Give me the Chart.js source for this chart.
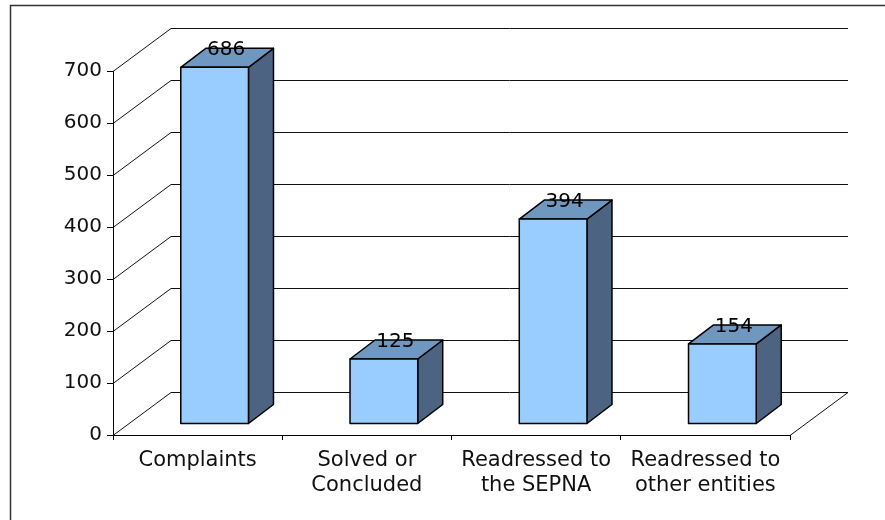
<!DOCTYPE html>
<html lang="en">
<head>
  <meta charset="UTF-8">
  <title>Complaints</title>
  <script src="https://cdn.jsdelivr.net/npm/chart.js"></script>
  <style>
    html, body { margin: 0; padding: 0; background: #fff; }
    #wrap { width: 885px; height: 520px; }
  </style>
</head>
<body>
  <div id="wrap"><canvas id="grafico" width="885" height="520"></canvas></div>

  <script>
    // data
    const categorias = [
      'Complaints',
      ['Solved or', 'Concluded'],
      ['Readressed to', 'the SEPNA'],
      ['Readressed to', 'other entities']
    ];
    const valores = [686, 125, 394, 154];
    const yTicks = [0, 100, 200, 300, 400, 500, 600, 700];

    // 3D look
    const WALL = { dx: 58, dy: -43 };   // depth of the back wall
    const PLANE = { dx: 17, dy: -11 };  // where the bar front sits
    const DEPTH = { dx: 25, dy: -19 };  // bar depth
    const FONT = 'DejaVu Sans';

    const frame3d = {
      id: 'frame3d',
      beforeDraw(chart) {
        const ctx = chart.ctx;
        ctx.save();
        ctx.strokeStyle = '#333';
        ctx.lineWidth = 1.5;
        ctx.strokeRect(10.5, 5.5, 1000, 1000);
        ctx.restore();
      },
      beforeDatasetsDraw(chart) {
        const { ctx, chartArea: a, scales: { y } } = chart;
        ctx.save();
        ctx.strokeStyle = '#111';
        ctx.lineWidth = 1;
        yTicks.forEach(v => {
          const py = Math.round(y.getPixelForValue(v)) + 0.5;
          ctx.beginPath();
          ctx.moveTo(a.left, py);
          ctx.lineTo(a.left + WALL.dx, py + WALL.dy);
          ctx.lineTo(a.right + WALL.dx, py + WALL.dy);
          if (v === 0) ctx.lineTo(a.right, py);
          ctx.stroke();
        });
        ctx.restore();
      },
      afterDatasetsDraw(chart) {
        const ctx = chart.ctx;
        const meta = chart.getDatasetMeta(0);
        ctx.save();
        ctx.lineWidth = 1.5;
        ctx.strokeStyle = '#000';
        ctx.lineJoin = 'round';
        meta.data.forEach((bar, i) => {
          const p = bar.getProps(['x', 'y', 'base', 'width'], true);
          const x0 = p.x - p.width / 2 + PLANE.dx;
          const x1 = p.x + p.width / 2 + PLANE.dx;
          const yt = p.y + PLANE.dy;
          const yb = p.base + PLANE.dy;
          // side
          ctx.fillStyle = '#4d6382';
          ctx.beginPath();
          ctx.moveTo(x1, yb);
          ctx.lineTo(x1 + DEPTH.dx, yb + DEPTH.dy);
          ctx.lineTo(x1 + DEPTH.dx, yt + DEPTH.dy);
          ctx.lineTo(x1, yt);
          ctx.closePath();
          ctx.fill(); ctx.stroke();
          // top
          ctx.fillStyle = '#6f98c0';
          ctx.beginPath();
          ctx.moveTo(x0, yt);
          ctx.lineTo(x0 + DEPTH.dx, yt + DEPTH.dy);
          ctx.lineTo(x1 + DEPTH.dx, yt + DEPTH.dy);
          ctx.lineTo(x1, yt);
          ctx.closePath();
          ctx.fill(); ctx.stroke();
          // front
          ctx.fillStyle = '#99ccff';
          ctx.fillRect(x0, yt, x1 - x0, yb - yt);
          ctx.strokeRect(x0, yt, x1 - x0, yb - yt);
          // value label
          ctx.fillStyle = '#000';
          ctx.font = '20px "' + FONT + '"';
          ctx.textAlign = 'center';
          ctx.textBaseline = 'middle';
          ctx.fillText(String(valores[i]), p.x + PLANE.dx + DEPTH.dx / 2 - 1, yt + DEPTH.dy + 2);
        });
        ctx.restore();
      }
    };

    new Chart(document.getElementById('grafico'), {
      type: 'bar',
      data: {
        labels: categorias,
        datasets: [{
          data: valores,
          backgroundColor: 'rgba(0,0,0,0)',
          borderWidth: 0,
          barPercentage: 0.4,
          categoryPercentage: 1
        }]
      },
      options: {
        responsive: false,
        animation: false,
        events: [],
        layout: { padding: { top: 71, right: 95, bottom: 0, left: 0 } },
        plugins: { legend: { display: false }, tooltip: { enabled: false } },
        scales: {
          x: {
            grid: { offset: true, drawOnChartArea: false, tickLength: 5, color: '#000', lineWidth: 1 },
            border: { color: '#000', width: 1 },
            ticks: { color: '#111', padding: 8, maxRotation: 0, autoSkip: false, font: { family: FONT, size: 21, lineHeight: 1.2 } },
            afterFit(s) { s.height = 85; }
          },
          y: {
            min: 0, max: 700,
            afterBuildTicks(s) { s.ticks = yTicks.map(v => ({ value: v })); },
            grid: { drawOnChartArea: false, tickLength: 6, color: '#000', lineWidth: 1 },
            border: { color: '#000', width: 1 },
            ticks: { color: '#111', padding: 5, font: { family: FONT, size: 20 } },
            afterFit(s) { s.width = 113; }
          }
        }
      },
      plugins: [frame3d]
    });
  </script>
</body>
</html>
